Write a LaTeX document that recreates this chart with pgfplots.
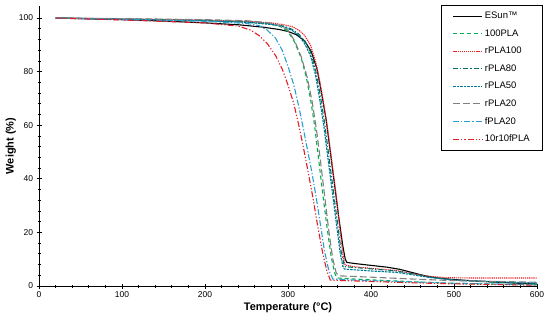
\documentclass[border=0pt]{standalone}
\usepackage{pgfplots}
\pgfplotsset{compat=1.18}
\usepackage{fontspec}
\setmainfont{Liberation Sans}
\definecolor{cgreen}{RGB}{0,176,80}
\definecolor{cred}{RGB}{240,30,40}
\definecolor{cteal}{RGB}{0,112,96}
\definecolor{cteal2}{RGB}{0,120,150}
\definecolor{cgray}{RGB}{128,128,128}
\definecolor{cblue}{RGB}{40,160,210}
\definecolor{cred2}{RGB}{225,30,40}
\begin{document}
\begin{tikzpicture}
\begin{axis}[
  name=ax,
  scale only axis,
  width=498bp, height=280bp,
  xmin=0, xmax=600, ymin=0, ymax=104.5,
  axis x line=bottom, axis y line=left,
  axis line style={-, line width=0.9pt},
  xtick={0,100,...,600}, ytick={0,20,...,100},
  minor x tick num=4, minor y tick num=4,
  tick align=center,
  major tick length=5bp, minor tick length=3bp,
  tick style={black, line width=0.8pt},
  /pgf/number format/assume math mode=true,
  ticklabel style={font=\fontsize{8.5}{10}\selectfont},
  xlabel={\textbf{Temperature (°C)}},
  ylabel={\textbf{Weight (\%)}},
  label style={font=\fontsize{11}{13}\selectfont},
  xlabel style={yshift=2bp},
  ylabel style={yshift=-4bp},
  legend cell align=left,
  legend style={at={(1.012,1.004)}, anchor=north east, draw=black, line width=0.8pt,
    font=\fontsize{9.5}{11}\selectfont, inner xsep=11bp, inner ysep=5bp, row sep=5.4bp},
  legend image code/.code={\draw[#1, line width=1.1bp] (0bp,0bp) -- (29bp,0bp);},
  every axis plot/.append style={line width=1.1bp},
]
% ESun
\addplot[black, solid] coordinates {(20,100)(50,99.8)(100,99.4)(150,98.9)(200,98.2)(240,97.5)(270,96.6)(290,95.7)(300,95)(310,93.8)(320,91.5)(328,87.5)(335,81)(341,71)(346,62)(351,50)(356,38)(361,26)(366,15)(369,10)(371,8.8)(380,8.4)(400,7.7)(420,7)(435,6.2)(450,5)(465,3.8)(480,3)(500,2.4)(530,1.8)(560,1.3)(600,0.7)};
\addlegendentry{ESun™}
% 100PLA
\addplot[cgreen, dash pattern=on 4pt off 3pt] coordinates {(20,100)(100,99.7)(200,99.2)(250,98.7)(275,98)(290,97)(300,95)(308,91)(316,85)(322,78)(327,70)(332,60)(337,47)(342,34)(347,22)(352,11)(356,5)(359,3)(380,2.6)(400,2.3)(450,1.6)(500,1)(600,0.4)};
\addlegendentry{100PLA}
% rPLA100
\addplot[cred, dash pattern=on 1.2pt off 0.9pt] coordinates {(20,100)(100,99.7)(200,99.2)(250,98.8)(280,98.2)(295,97.5)(305,96.8)(313,95.5)(320,93.5)(327,90)(333,84)(338,77)(343,68)(348,58)(353,46)(358,34)(363,20)(367,10)(369,7.8)(380,7.2)(400,6.6)(430,5.8)(450,4.6)(470,3.6)(490,3.1)(520,3.0)(560,3.0)(600,3.0)};
\addlegendentry{rPLA100}
% rPLA80
\addplot[cteal, dash pattern=on 5pt off 2pt on 1.2pt off 2pt] coordinates {(20,100)(100,99.6)(200,99)(250,98.5)(280,97.8)(295,97)(305,95.8)(313,94)(320,91.5)(327,87.5)(333,81)(339,71)(344,61)(349,49)(354,37)(359,25)(364,13)(367,8.5)(369,7.2)(400,6.4)(430,5.6)(450,4.6)(470,3.4)(500,2.2)(550,1.4)(600,0.9)};
\addlegendentry{rPLA80}
% rPLA50
\addplot[cteal2, dash pattern=on 2.5pt off 1pt] coordinates {(20,100)(100,99.6)(200,99)(250,98.4)(280,97.6)(295,96.7)(305,95.4)(313,93.5)(320,90.5)(327,86)(333,79)(338,70)(343,60)(348,48)(353,36)(358,24)(363,12)(366,7.5)(368,6.3)(400,5.6)(430,5.1)(450,4.2)(470,3.2)(500,2.2)(550,1.6)(600,1.1)};
\addlegendentry{rPLA50}
% rPLA20
\addplot[cgray, dash pattern=on 7pt off 3pt] coordinates {(20,100)(100,99.8)(200,99.4)(250,99)(275,98.3)(290,97.3)(300,95.5)(308,91.5)(316,85.5)(323,78)(329,69)(334,59)(339,47)(344,34)(349,21)(354,10)(358,5)(361,3.8)(400,3.3)(450,2.6)(500,2.0)(600,1.4)};
\addlegendentry{rPLA20}
% fPLA20
\addplot[cblue, dash pattern=on 6pt off 2pt on 1.2pt off 2pt] coordinates {(20,100)(100,99.5)(200,98.8)(250,98)(265,97.2)(275,95.5)(285,92.5)(293,88)(300,82)(307,75)(313,67)(319,58)(324,50)(329,42)(334,33)(339,23)(344,13)(349,6)(354,2.6)(380,2.2)(400,2)(450,1.5)(500,1)(600,0.5)};
\addlegendentry{fPLA20}
% 10r10fPLA
\addplot[cred2, dash pattern=on 6pt off 2pt on 1.2pt off 2pt on 1.2pt off 2pt] coordinates {(20,100)(100,99.3)(200,98.2)(240,97)(255,95.5)(265,93.5)(275,90.5)(285,86)(293,81)(300,75)(307,68)(313,60)(319,51)(324,43)(330,33)(336,22)(342,12)(347,5.5)(351,2.2)(380,1.9)(400,1.7)(450,1.2)(500,0.8)(600,0.3)};
\addlegendentry{10r10fPLA}
\end{axis}
\pgfresetboundingbox
\path[use as bounding box] ([shift={(-39bp,-38bp)}]ax.south west) rectangle ([shift={(13bp,6bp)}]ax.north east);
\end{tikzpicture}
\end{document}
